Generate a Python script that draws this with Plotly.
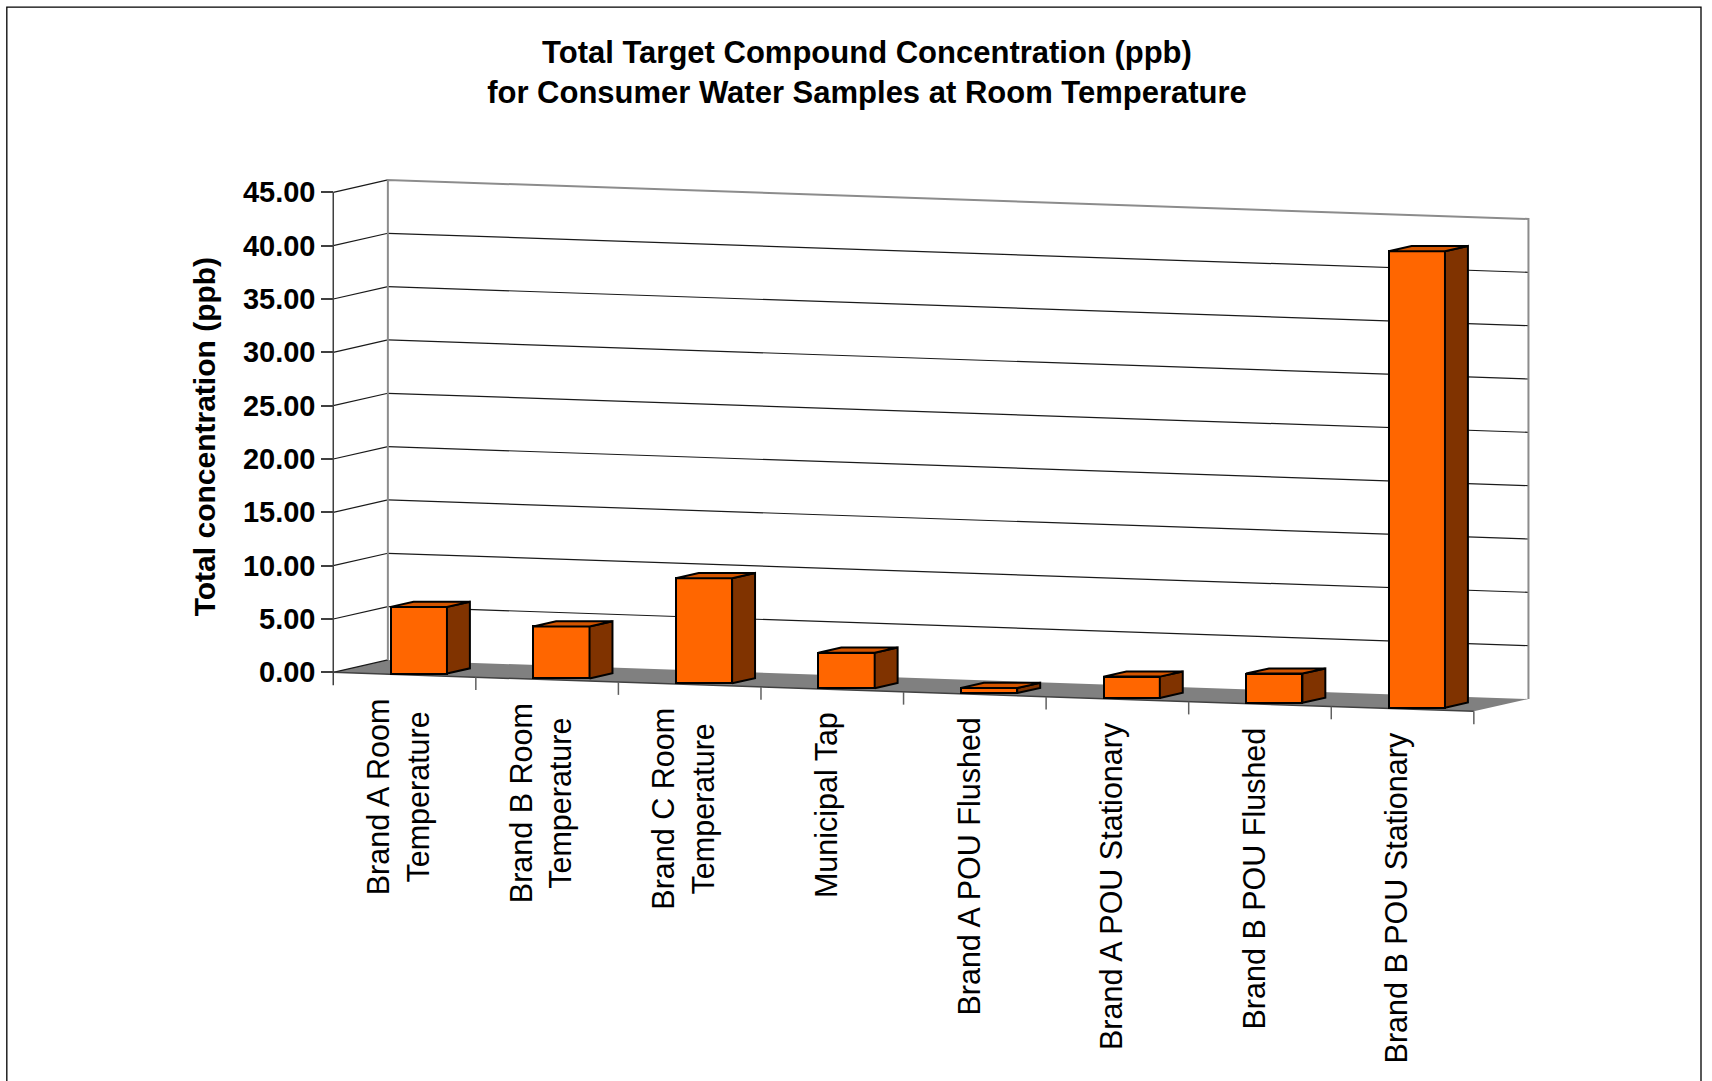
import plotly.graph_objects as go

# ---- data -------------------------------------------------------------
categories = [
    "Brand A Room<br>Temperature",
    "Brand B Room<br>Temperature",
    "Brand C Room<br>Temperature",
    "Municipal Tap",
    "Brand A POU Flushed",
    "Brand A POU Stationary",
    "Brand B POU Flushed",
    "Brand B POU Stationary",
]
values = [6.25, 4.87, 9.85, 3.33, 0.47, 2.0, 2.74, 42.8]
y_ticks = [0, 5, 10, 15, 20, 25, 30, 35, 40, 45]
y_tick_text = [f"{v:.2f}" for v in y_ticks]

title_text = ("Total Target Compound Concentration (ppb)<br>"
              "for Consumer Water Samples at Room Temperature")
y_title = "Total concentration (ppb)"

# ---- page and oblique 3-D projection -----------------------------------
W, H = 1712, 1081
PX_X = 142.6          # pixels per category step
PX_Y = 10.68          # pixels per ppb
ORIGIN_X, ORIGIN_Y = 333.0, 672.6   # front-left floor corner on the page

SLOPE = 0.4575                  # floor drop (ppb) per category step
DEPTH_X, DEPTH_Y = 0.383, 1.161  # offset of the back wall (full depth)
WALL_TOP = y_ticks[-1]
N = len(categories)

x_lo, x_hi = -0.1, N + 0.45
y_lo, y_hi = -5.5, 47.0

margin_l = ORIGIN_X + x_lo * PX_X
plot_w = (x_hi - x_lo) * PX_X
margin_r = W - margin_l - plot_w
margin_t = ORIGIN_Y - y_hi * PX_Y
plot_h = (y_hi - y_lo) * PX_Y
margin_b = H - margin_t - plot_h


def proj(u, z, v):
    """Map (category position, depth 0..1, value) to axis coordinates."""
    return u + z * DEPTH_X, v - SLOPE * u + z * DEPTH_Y


def px_to_paper(px, py):
    return (px - margin_l) / plot_w, (H - margin_b - py) / plot_h


def y_to_paper(y):
    return (y - y_lo) / (y_hi - y_lo)


FONT = "Liberation Sans, Arial, sans-serif"

# ---- bars -------------------------------------------------------------
z_front, z_back = 0.12, 0.54
bar_w = 0.395
bar_x = [i + 0.6 for i in range(N)]
bar_base = [-SLOPE * (x - z_front * DEPTH_X) + z_front * DEPTH_Y for x in bar_x]
dx = (z_back - z_front) * DEPTH_X
dy = (z_back - z_front) * DEPTH_Y

side_x, side_y, top_x, top_y = [], [], [], []
for xc, b, v in zip(bar_x, bar_base, values):
    left, right, top = xc - bar_w / 2, xc + bar_w / 2, b + v
    side_x += [right, right + dx, right + dx, right, right, None]
    side_y += [b, b + dy, top + dy, top, b, None]
    top_x += [left, right, right + dx, left + dx, left, None]
    top_y += [top, top, top + dy, top + dy, top, None]

fig = go.Figure()
fig.add_trace(go.Bar(
    x=bar_x, y=values, base=bar_base, width=bar_w,
    marker=dict(color="#FF6600", line=dict(color="black", width=2)),
    hoverinfo="skip", showlegend=False,
))
fig.add_trace(go.Scatter(
    x=side_x, y=side_y, mode="lines", fill="toself", fillcolor="#803300",
    line=dict(color="black", width=2), hoverinfo="skip", showlegend=False,
))
fig.add_trace(go.Scatter(
    x=top_x, y=top_y, mode="lines", fill="toself", fillcolor="#D45500",
    line=dict(color="black", width=2), hoverinfo="skip", showlegend=False,
))

# ---- walls, floor and grid -------------------------------------------
shapes = []


def path(points, closed=False):
    d = "M " + " L ".join(f"{x:.4f},{y:.4f}" for x, y in points)
    return d + (" Z" if closed else "")


floor = [proj(0, 0, 0), proj(N, 0, 0), proj(N, 1, 0), proj(0, 1, 0)]
shapes.append(dict(type="path", path=path(floor, True), xref="x", yref="y",
                   fillcolor="#808080", line=dict(width=0), layer="below"))

for v in y_ticks:
    (x0, y0), (x1, y1) = proj(0, 0, v), proj(0, 1, v)
    shapes.append(dict(type="line", x0=x0, y0=y0, x1=x1, y1=y1, xref="x", yref="y",
                       line=dict(color="#1a1a1a", width=1.2), layer="below"))

for v in y_ticks[1:-1]:
    (x0, y0), (x1, y1) = proj(0, 1, v), proj(N, 1, v)
    shapes.append(dict(type="line", x0=x0, y0=y0, x1=x1, y1=y1, xref="x", yref="y",
                       line=dict(color="#1a1a1a", width=1.2), layer="below"))

wall = [proj(0, 1, 0), proj(0, 1, WALL_TOP), proj(N, 1, WALL_TOP), proj(N, 1, 0)]
shapes.append(dict(type="path", path=path(wall), xref="x", yref="y",
                   line=dict(color="#8c8c8c", width=2), layer="below"))

# front value axis and front category edge
shapes.append(dict(type="line", x0=0, y0=WALL_TOP, x1=0, y1=-1.2, xref="x", yref="y",
                   line=dict(color="#404040", width=1.5), layer="above"))
(fx0, fy0), (fx1, fy1) = proj(0, 0, 0), proj(N, 0, 0)
shapes.append(dict(type="line", x0=fx0, y0=fy0, x1=fx1, y1=fy1, xref="x", yref="y",
                   line=dict(color="#404040", width=1.5), layer="below"))
for i in range(1, N + 1):
    cx, cy = proj(i, 0, 0)
    shapes.append(dict(type="line", x0=cx, y0=cy, x1=cx, y1=cy - 1.2, xref="x", yref="y",
                       line=dict(color="#606060", width=1.5), layer="below"))

# outer frame of the chart area
(lx, ty) = px_to_paper(6.5, 6.5)
(rx, by) = px_to_paper(1701, H + 5)
shapes.append(dict(type="path", xref="paper", yref="paper",
                   path=f"M {lx},{by} L {lx},{ty} L {rx},{ty} L {rx},{by}",
                   line=dict(color="black", width=1.3)))

# ---- text ---------------------------------------------------------------
annotations = []
for i, label in enumerate(categories):
    u = i + 0.46
    annotations.append(dict(
        x=u, y=y_to_paper(-SLOPE * u - 2.0), xref="x", yref="paper", text=label,
        textangle=-90, xanchor="center", yanchor="top", align="center",
        showarrow=False, font=dict(family=FONT, size=30.5, color="black"),
    ))

ax_px, ax_py = px_to_paper(204, 437)
annotations.append(dict(
    x=ax_px, y=ax_py, xref="paper", yref="paper", text=y_title, textangle=-90,
    xanchor="center", yanchor="middle", showarrow=False,
    font=dict(family=FONT, size=30, color="black", weight="bold"),
))

fig.update_layout(
    width=W, height=H,
    margin=dict(l=margin_l, r=margin_r, t=margin_t, b=margin_b, pad=0, autoexpand=False),
    paper_bgcolor="white", plot_bgcolor="white",
    showlegend=False,
    bargap=0,
    title=dict(text=title_text, x=867 / W, xref="container", xanchor="center",
               y=1 - 63 / H, yref="container", yanchor="middle",
               font=dict(family=FONT, size=31, color="black", weight="bold")),
    xaxis=dict(range=[x_lo, x_hi], visible=False, fixedrange=True),
    yaxis=dict(range=[y_lo, y_hi], tickvals=y_ticks, ticktext=y_tick_text,
               ticks="outside", ticklen=12, tickwidth=1.5, tickcolor="#404040",
               showgrid=False, zeroline=False, showline=False,
               anchor="free", position=(0 - x_lo) / (x_hi - x_lo),
               automargin=False, fixedrange=True,
               tickfont=dict(family=FONT, size=29, color="black", weight="bold")),
    shapes=shapes,
    annotations=annotations,
)

fig.write_html("out.html")
